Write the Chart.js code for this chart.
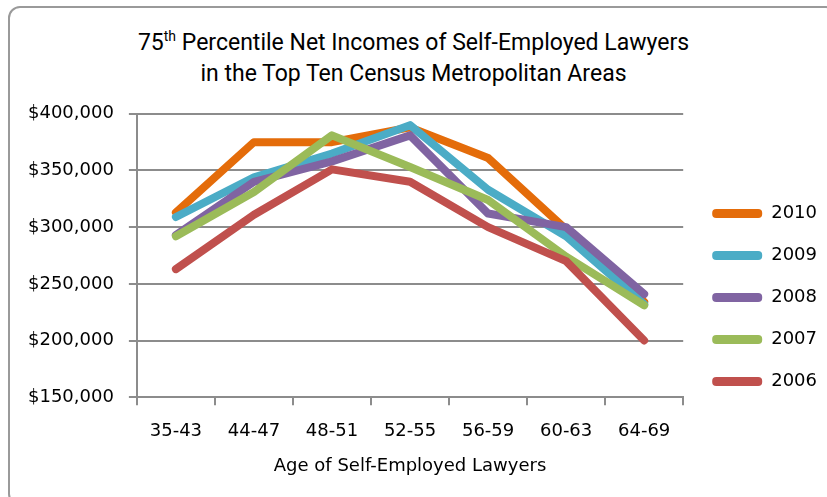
<!DOCTYPE html>
<html>
<head>
<meta charset="utf-8">
<script src="https://cdn.jsdelivr.net/npm/chart.js@4"></script>
<style>
  body { margin: 0; background: #fff; overflow: hidden; }
  #frame {
    position: absolute; left: 8px; top: 6px; width: 830px; height: 500px;
    border: 2px solid #9a9a9a; border-radius: 12px; box-sizing: border-box;
  }
  #title {
    position: absolute; left: 0; top: 27px; width: 827px; text-align: center;
    font-family: "Liberation Sans Narrow", Roboto, sans-serif; font-size: 23px;
    line-height: 31px; color: #000;
  }
  #title sup { font-size: 14px; vertical-align: 9px; line-height: 0; }
  #wrap { position: absolute; left: 0; top: 88px; width: 827px; height: 409px; }
</style>
</head>
<body>
<div id="frame"></div>
<div id="title">75<sup>th</sup> Percentile Net Incomes of Self-Employed Lawyers<br>in the Top Ten Census Metropolitan Areas</div>
<div id="wrap"><canvas id="lineChart"></canvas></div>
<script>
// Dados
const ageGroups = ['35-43', '44-47', '48-51', '52-55', '56-59', '60-63', '64-69'];
const years = ['2010', '2009', '2008', '2007', '2006'];
const income2010 = [313000, 375000, 375000, 388000, 361000, 298000, 234000];
const income2009 = [309000, 344000, 365000, 390000, 333000, 292000, 232000];
const income2008 = [293000, 340000, 358000, 381000, 312000, 300000, 241000];
const income2007 = [292000, 331000, 381000, 353000, 324000, 274000, 231000];
const income2006 = [263000, 311000, 351000, 340000, 300000, 270000, 200000];
const yTicks = [150000, 200000, 250000, 300000, 350000, 400000];

const lineColors = { '2010': '#E46C0A', '2009': '#4BACC6', '2008': '#8064A2', '2007': '#9BBB59', '2006': '#C0504D' };
const seriesByYear = { '2010': income2010, '2009': income2009, '2008': income2008, '2007': income2007, '2006': income2006 };

// 2006 primeiro no array para ficar por cima; a legenda é invertida
const datasets = years.slice().reverse().map(y => ({
    label: y,
    data: seriesByYear[y],
    borderColor: lineColors[y],
    backgroundColor: lineColors[y],
    borderWidth: 8,
    pointRadius: 0,
    tension: 0,
    borderJoinStyle: 'round',
    borderCapStyle: 'round'
}));

const font = { family: '"DejaVu Sans", sans-serif', size: 18 };
const gridColor = '#8c8c8c';

// Empurra a legenda um pouco para a direita e para baixo
const legendShift = {
    id: 'legendShift',
    afterLayout(chart) {
        chart.legend.left += 5;
        chart.legend.right += 5;
        chart.legend.top += 10;
        chart.legend.bottom += 10;
    }
};

const ctx = document.getElementById('lineChart').getContext('2d');
const lineChart = new Chart(ctx, {
    type: 'line',
    data: { labels: ageGroups, datasets: datasets },
    plugins: [legendShift],
    options: {
        responsive: true,
        maintainAspectRatio: false,
        animation: false,
        layout: { padding: { left: 13, top: 12, right: 5, bottom: 22 } },
        plugins: {
            title: { display: false },
            tooltip: { enabled: false },
            legend: {
                position: 'right',
                reverse: true,
                labels: {
                    font: font,
                    color: '#000',
                    boxWidth: 50,
                    boxHeight: 9,
                    padding: 24,
                    useBorderRadius: true,
                    borderRadius: 4,
                    generateLabels: (chart) => {
                        const items = Chart.defaults.plugins.legend.labels.generateLabels(chart);
                        items.forEach(it => { it.lineWidth = 0; it.fillStyle = it.strokeStyle; });
                        return items;
                    }
                }
            }
        },
        scales: {
            x: {
                offset: true,
                grid: { drawOnChartArea: false, drawTicks: true, tickLength: 8, color: gridColor, lineWidth: 2, offset: true },
                border: { color: gridColor, width: 2 },
                ticks: { font: { ...font, lineHeight: 1.1 }, color: '#000', padding: 16, maxRotation: 0 },
                title: { display: true, text: 'Age of Self-Employed Lawyers', font: { ...font, lineHeight: 1 }, color: '#000', padding: { top: 0, bottom: 0 } }
            },
            y: {
                min: yTicks[0],
                max: yTicks[yTicks.length - 1],
                afterBuildTicks: (axis) => { axis.ticks = yTicks.map(v => ({ value: v })); },
                grid: { color: gridColor, lineWidth: 2, tickLength: 8 },
                border: { color: gridColor, width: 2 },
                ticks: {
                    font: font, color: '#000', padding: 15,
                    callback: (v) => '$' + Number(v).toLocaleString('en-US')
                }
            }
        }
    }
});
</script>
</body>
</html>
